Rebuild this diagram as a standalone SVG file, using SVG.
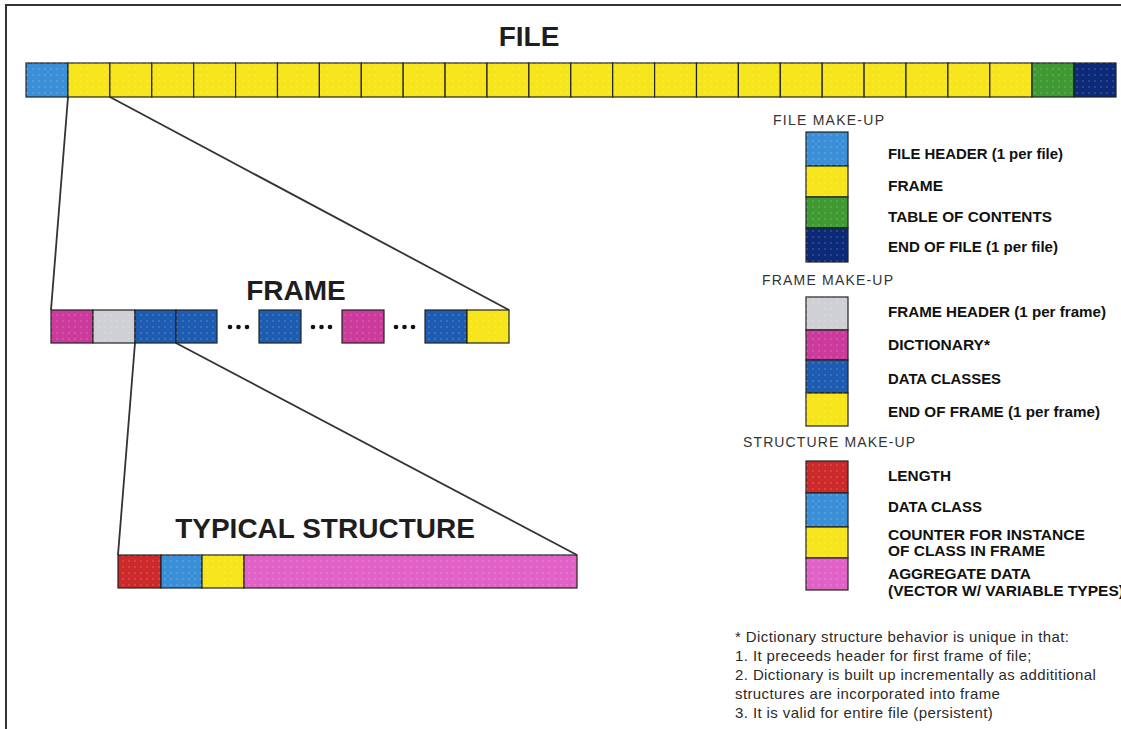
<svg xmlns="http://www.w3.org/2000/svg" width="1121" height="729" viewBox="0 0 1121 729">
<defs>
<style>
.c{stroke:#222;stroke-width:1.2}
.hb{fill:#3a8fd6}.yl{fill:#f7e51c}.gr{fill:#3f9a34}.nv{fill:#0c2a78}
.gy{fill:#cfd0d3}.mg{fill:#cc3a9c}.bl{fill:#1d5cb0}.rd{fill:#cc2a2a}.pk{fill:#e062c6}
.title{font-family:"Liberation Sans",Arial,sans-serif;font-weight:bold;font-size:28px;fill:#1e1e1e}
.sec{font-family:"Liberation Sans",Arial,sans-serif;font-size:14px;fill:#333}
.lab{font-family:"Liberation Sans",Arial,sans-serif;font-weight:bold;font-size:15px;fill:#111}
.note{font-family:"Liberation Sans",Arial,sans-serif;font-size:15px;fill:#2a2a2a;letter-spacing:0.4px}
.ln{stroke:#333;stroke-width:1.8;fill:none}
.dot{fill:#111}
</style>
<pattern id="tex" width="6" height="6" patternUnits="userSpaceOnUse">
<circle cx="3" cy="3" r="0.9" fill="#fff" fill-opacity="0.18"/>
</pattern>
</defs>
<rect x="0" y="0" width="1121" height="729" fill="#fff"/>
<path d="M6,729 V5 H1121" fill="none" stroke="#333" stroke-width="2"/>

<g id="connectors">
<line class="ln" x1="68" y1="97" x2="51" y2="310"/>
<line class="ln" x1="110" y1="97" x2="509" y2="310"/>
<line class="ln" x1="135" y1="343" x2="118" y2="555"/>
<line class="ln" x1="176" y1="343" x2="577" y2="555"/>
</g>

<g id="file">
<text class="title" x="529" y="46" text-anchor="middle">FILE</text>
<rect class="c hb" x="26" y="63" width="42" height="34"/>
<g id="file-frames">
<rect class="c yl" x="68" y="63" width="41.9" height="34"/>
<rect class="c yl" x="109.9" y="63" width="41.9" height="34"/>
<rect class="c yl" x="151.8" y="63" width="41.9" height="34"/>
<rect class="c yl" x="193.7" y="63" width="41.9" height="34"/>
<rect class="c yl" x="235.6" y="63" width="41.9" height="34"/>
<rect class="c yl" x="277.5" y="63" width="41.9" height="34"/>
<rect class="c yl" x="319.4" y="63" width="41.9" height="34"/>
<rect class="c yl" x="361.3" y="63" width="41.9" height="34"/>
<rect class="c yl" x="403.2" y="63" width="41.9" height="34"/>
<rect class="c yl" x="445.1" y="63" width="41.9" height="34"/>
<rect class="c yl" x="487" y="63" width="41.9" height="34"/>
<rect class="c yl" x="528.9" y="63" width="41.9" height="34"/>
<rect class="c yl" x="570.8" y="63" width="41.9" height="34"/>
<rect class="c yl" x="612.7" y="63" width="41.9" height="34"/>
<rect class="c yl" x="654.6" y="63" width="41.9" height="34"/>
<rect class="c yl" x="696.5" y="63" width="41.9" height="34"/>
<rect class="c yl" x="738.4" y="63" width="41.9" height="34"/>
<rect class="c yl" x="780.3" y="63" width="41.9" height="34"/>
<rect class="c yl" x="822.2" y="63" width="41.9" height="34"/>
<rect class="c yl" x="864.1" y="63" width="41.9" height="34"/>
<rect class="c yl" x="906" y="63" width="41.9" height="34"/>
<rect class="c yl" x="947.9" y="63" width="41.9" height="34"/>
<rect class="c yl" x="989.8" y="63" width="42.2" height="34"/>
</g>
<rect class="c gr" x="1032" y="63" width="42" height="34"/>
<rect class="c nv" x="1074" y="63" width="42" height="34"/>
<rect x="26" y="63" width="1090" height="34" fill="url(#tex)"/>
</g>

<g id="frame">
<text class="title" x="296" y="300" text-anchor="middle">FRAME</text>
<rect class="c mg" x="51" y="310" width="42" height="33"/>
<rect class="c gy" x="93" y="310" width="42" height="33"/>
<rect class="c bl" x="135" y="310" width="41" height="33"/>
<rect class="c bl" x="176" y="310" width="41" height="33"/>
<circle class="dot" cx="230" cy="327" r="2.3"/><circle class="dot" cx="238.5" cy="327" r="2.3"/><circle class="dot" cx="247" cy="327" r="2.3"/>
<rect class="c bl" x="259" y="310" width="42" height="33"/>
<circle class="dot" cx="313" cy="327" r="2.3"/><circle class="dot" cx="321.5" cy="327" r="2.3"/><circle class="dot" cx="330" cy="327" r="2.3"/>
<rect class="c mg" x="342" y="310" width="42" height="33"/>
<circle class="dot" cx="396" cy="327" r="2.3"/><circle class="dot" cx="404.5" cy="327" r="2.3"/><circle class="dot" cx="413" cy="327" r="2.3"/>
<rect class="c bl" x="425" y="310" width="42" height="33"/>
<rect class="c yl" x="467" y="310" width="42" height="33"/>
<rect x="51" y="310" width="166" height="33" fill="url(#tex)"/>
<rect x="259" y="310" width="42" height="33" fill="url(#tex)"/>
<rect x="342" y="310" width="42" height="33" fill="url(#tex)"/>
<rect x="425" y="310" width="84" height="33" fill="url(#tex)"/>
</g>

<g id="structure">
<text class="title" x="325" y="538" text-anchor="middle">TYPICAL STRUCTURE</text>
<rect class="c rd" x="118" y="555" width="43" height="33"/>
<rect class="c hb" x="161" y="555" width="41" height="33"/>
<rect class="c yl" x="202" y="555" width="42" height="33"/>
<rect class="c pk" x="244" y="555" width="333" height="33"/>
<rect x="118" y="555" width="459" height="33" fill="url(#tex)"/>
</g>

<g id="legend-file">
<text class="sec" x="773" y="125" textLength="111" lengthAdjust="spacing">FILE MAKE-UP</text>
<rect class="c hb" x="806" y="132" width="42" height="34"/>
<rect class="c yl" x="806" y="166" width="42" height="31"/>
<rect class="c gr" x="806" y="197" width="42" height="31"/>
<rect class="c nv" x="806" y="228" width="42" height="34"/>
<rect x="806" y="132" width="42" height="130" fill="url(#tex)"/>
<text class="lab" x="888" y="159" textLength="175" lengthAdjust="spacingAndGlyphs">FILE HEADER (1 per file)</text>
<text class="lab" x="888" y="191" textLength="55" lengthAdjust="spacingAndGlyphs">FRAME</text>
<text class="lab" x="888" y="222" textLength="164" lengthAdjust="spacingAndGlyphs">TABLE OF CONTENTS</text>
<text class="lab" x="888" y="252" textLength="170" lengthAdjust="spacingAndGlyphs">END OF FILE (1 per file)</text>
</g>

<g id="legend-frame">
<text class="sec" x="762" y="285" textLength="131" lengthAdjust="spacing">FRAME MAKE-UP</text>
<rect class="c gy" x="806" y="297" width="42" height="33"/>
<rect class="c mg" x="806" y="330" width="42" height="30"/>
<rect class="c bl" x="806" y="360" width="42" height="33"/>
<rect class="c yl" x="806" y="393" width="42" height="33"/>
<rect x="806" y="297" width="42" height="129" fill="url(#tex)"/>
<text class="lab" x="888" y="317" textLength="218" lengthAdjust="spacingAndGlyphs">FRAME HEADER (1 per frame)</text>
<text class="lab" x="888" y="350" textLength="102" lengthAdjust="spacingAndGlyphs">DICTIONARY*</text>
<text class="lab" x="888" y="384" textLength="113" lengthAdjust="spacingAndGlyphs">DATA CLASSES</text>
<text class="lab" x="888" y="417" textLength="212" lengthAdjust="spacingAndGlyphs">END OF FRAME (1 per frame)</text>
</g>

<g id="legend-structure">
<text class="sec" x="743" y="447" textLength="172" lengthAdjust="spacing">STRUCTURE MAKE-UP</text>
<rect class="c rd" x="806" y="461" width="42" height="32"/>
<rect class="c hb" x="806" y="493" width="42" height="34"/>
<rect class="c yl" x="806" y="527" width="42" height="31"/>
<rect class="c pk" x="806" y="558" width="42" height="32"/>
<rect x="806" y="461" width="42" height="129" fill="url(#tex)"/>
<text class="lab" x="888" y="481" textLength="63" lengthAdjust="spacingAndGlyphs">LENGTH</text>
<text class="lab" x="888" y="512" textLength="94" lengthAdjust="spacingAndGlyphs">DATA CLASS</text>
<text class="lab" x="888" y="540" textLength="197" lengthAdjust="spacingAndGlyphs">COUNTER FOR INSTANCE</text>
<text class="lab" x="888" y="556" textLength="157" lengthAdjust="spacingAndGlyphs">OF CLASS IN FRAME</text>
<text class="lab" x="888" y="579" textLength="143" lengthAdjust="spacingAndGlyphs">AGGREGATE DATA</text>
<text class="lab" x="888" y="596" textLength="236" lengthAdjust="spacingAndGlyphs">(VECTOR W/ VARIABLE TYPES)</text>
</g>

<g id="footnote">
<text class="note" x="735" y="642">* Dictionary structure behavior is unique in that:</text>
<text class="note" x="735" y="661">1. It preceeds header for first frame of file;</text>
<text class="note" x="735" y="680">2. Dictionary is built up incrementally as addititional</text>
<text class="note" x="735" y="699">structures are incorporated into frame</text>
<text class="note" x="735" y="718">3. It is valid for entire file (persistent)</text>
</g>
</svg>
